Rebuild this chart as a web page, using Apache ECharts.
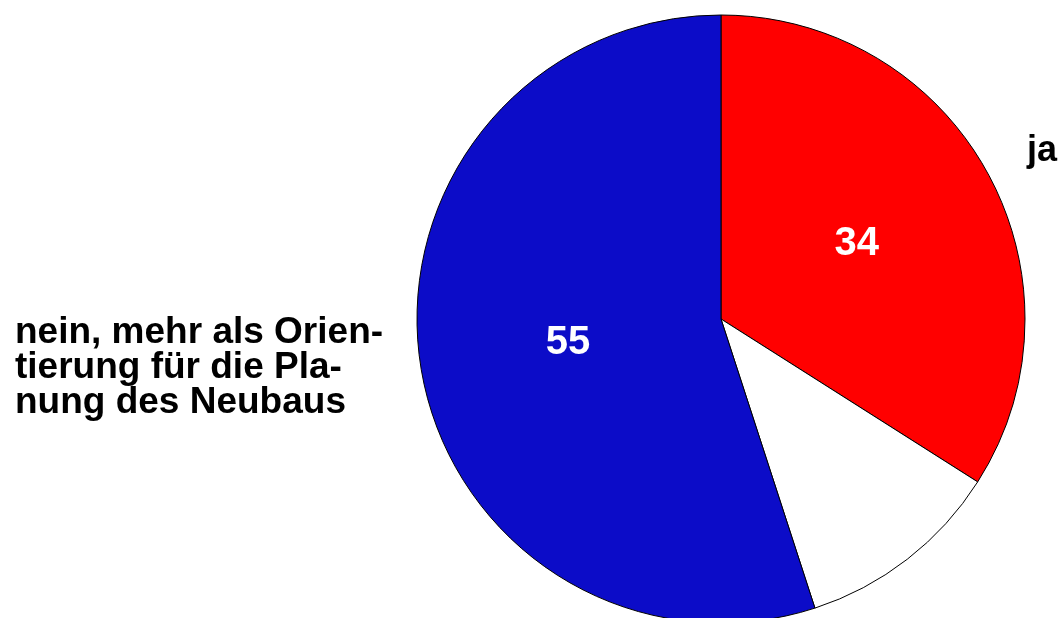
<!DOCTYPE html>
<html>
<head>
<meta charset="utf-8">
<script src="https://cdn.jsdelivr.net/npm/echarts@6/dist/echarts.min.js"></script>
<style>
html,body{margin:0;padding:0;background:#fff;}
#chart{width:1060px;height:618px;}
</style>
</head>
<body>
<div id="chart"></div>
<script>
// Antworten
var categories = ['ja', 'keine Angabe', 'nein, mehr als Orientierung für die Planung des Neubaus'];
var values = [34, 11, 55];
var sliceColors = ['#ff0000', '#ffffff', '#0c0cc8'];
var showValue = [true, false, true];

function pieChart(){
    var chart = echarts.init(document.getElementById('chart'));
    var data = categories.map(function(c, i){
        return {
            name: c,
            value: values[i],
            itemStyle: {color: sliceColors[i]},
            label: {show: showValue[i]}
        };
    });
    var font = '"Liberation Sans", Arial, sans-serif';
    var option = {
        animation: false,
        series: [{
            type: 'pie',
            center: [721, 319],
            radius: 304,
            startAngle: 90,
            clockwise: true,
            itemStyle: {borderColor: '#000', borderWidth: 1},
            label: {
                position: 'inside',
                formatter: '{c}',
                color: '#fff',
                fontSize: 40,
                fontWeight: 'bold',
                fontFamily: font
            },
            labelLine: {show: false},
            emphasis: {disabled: true},
            data: data
        }],
        graphic: [
            {
                type: 'text', left: 1027, top: 133,
                style: {text: 'ja', font: 'bold 36px ' + font, fill: '#000'}
            },
            {
                type: 'text', left: 15, top: 314,
                style: {
                    text: 'nein, mehr als Orien-\ntierung für die Pla-\nnung des Neubaus',
                    font: 'bold 37px ' + font, lineHeight: 35, fill: '#000'
                }
            }
        ]
    };
    chart.setOption(option);
}
pieChart();
</script>
</body>
</html>
